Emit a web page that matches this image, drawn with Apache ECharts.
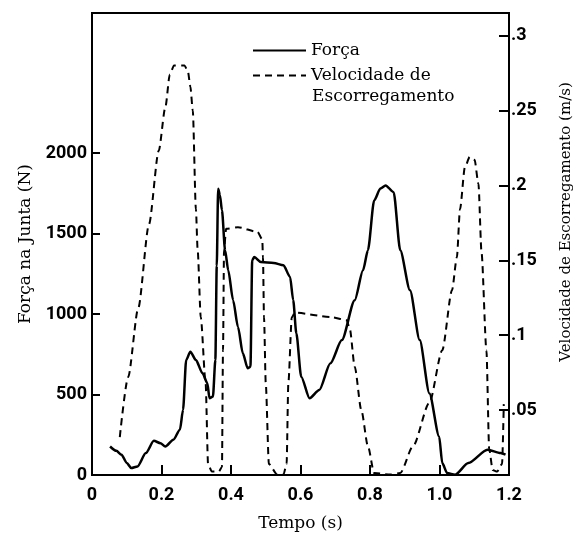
<!DOCTYPE html>
<html>
<head>
<meta charset="UTF-8">
<title>Força e velocidade</title>
<script type="text/javascript" src="https://cdn.jsdelivr.net/npm/echarts@6/dist/echarts.min.js"></script>
</head>
<body style="margin:0">
	<div id="div" style="width:582px;height:537px"></div>

	<script type="text/javascript">
		// Força na junta (N) - tempo (s)
		var forceT = [0.052, 0.07, 0.085, 0.10, 0.113, 0.131, 0.155, 0.178, 0.197, 0.211, 0.234, 0.253, 0.262,
			0.271, 0.283, 0.299, 0.318, 0.332, 0.338, 0.348, 0.355, 0.359, 0.363, 0.368, 0.374, 0.383, 0.392,
			0.406, 0.42, 0.434, 0.448, 0.456, 0.461, 0.467, 0.486, 0.523, 0.551, 0.570, 0.579, 0.588, 0.602,
			0.626, 0.654, 0.686, 0.719, 0.756, 0.780, 0.794, 0.812, 0.83, 0.845, 0.868, 0.887, 0.915, 0.943,
			0.971, 0.999, 1.008, 1.022, 1.045, 1.083, 1.138, 1.176, 1.19];
		var forceVal = [177, 150, 126, 75, 43, 53, 136, 212, 198, 177, 219, 281, 405,
			714, 766, 714, 632, 570, 477, 487, 714, 1300, 1778, 1740, 1644, 1396, 1272,
			1086, 921, 756, 663, 673, 1334, 1354, 1323, 1317, 1303, 1230, 1086, 880, 611,
			477, 528, 694, 838, 1086, 1272, 1396, 1706, 1780, 1799, 1757, 1396, 1148, 838,
			507, 239, 74, 12, 2, 74, 157, 136, 126];

		// Velocidade de escorregamento (m/s) - tempo (s)
		var velT = [0.080, 0.104, 0.133, 0.164, 0.192, 0.211, 0.224, 0.236, 0.266, 0.276, 0.283, 0.290,
			0.299, 0.304, 0.313, 0.327, 0.334, 0.345, 0.365, 0.374, 0.377, 0.380, 0.386, 0.42, 0.476,
			0.490, 0.492, 0.495, 0.500, 0.509, 0.533, 0.551, 0.560, 0.565, 0.575, 0.584, 0.69, 0.733,
			0.742, 0.756, 0.775, 0.794, 0.812, 0.859, 0.887, 0.924, 0.971, 1.008, 1.036, 1.050, 1.059,
			1.073, 1.087, 1.101, 1.112, 1.121, 1.135, 1.143, 1.153, 1.166, 1.180, 1.185];
		var velVal = [0.032, 0.072, 0.118, 0.174, 0.223, 0.252, 0.274, 0.280, 0.280, 0.276, 0.266, 0.250,
			0.184, 0.157, 0.112, 0.068, 0.014, 0.009, 0.009, 0.012, 0.090, 0.157, 0.171, 0.172, 0.169,
			0.164, 0.152, 0.112, 0.068, 0.014, 0.007, 0.007, 0.014, 0.068, 0.112, 0.115, 0.112, 0.110,
			0.104, 0.079, 0.050, 0.026, 0.008, 0.007, 0.008, 0.026, 0.055, 0.090, 0.130, 0.152, 0.184,
			0.212, 0.219, 0.217, 0.201, 0.155, 0.090, 0.024, 0.010, 0.009, 0.014, 0.054];

		var xTicks = [0, 0.2, 0.4, 0.6, 0.8, 1.0, 1.2];
		var xTickLabels = ['0', '0.2', '0.4', '0.6', '0.8', '1.0', '1.2'];
		var leftTicks = [0, 500, 1000, 1500, 2000];
		var leftTickLabels = ['0', '500', '1000', '1500', '2000'];
		var rightTicks = [0.05, 0.1, 0.15, 0.2, 0.25, 0.3];
		var rightTickLabels = ['.05', '.1', '.15', '.2', '.25', '.3'];

		function pairs(xs, ys) {
			var out = [];
			for (var i = 0; i < xs.length; i++) {
				out.push([xs[i], ys[i]]);
			}
			return out;
		}
		function labelOf(ticks, labels) {
			return function(v) {
				for (var i = 0; i < ticks.length; i++) {
					if (Math.abs(ticks[i] - v) < 1e-6) return labels[i];
				}
				return '';
			};
		}

		var serif = 'DejaVu Serif';
		var tickFont = {
			fontFamily : 'Roboto',
			fontWeight : 'bold',
			fontSize : 18,
			color : '#000'
		};

		var mychart = echarts.init(document.getElementById('div'));
		var option = {
			animation : false,
			backgroundColor : '#fff',
			grid : {
				left : 92,
				right : 62,
				top : 13,
				bottom : 62,
				show : true,
				borderColor : '#000',
				borderWidth : 2
			},
			legend : {
				orient : 'vertical',
				left : 247,
				top : 37,
				itemWidth : 53,
				itemHeight : 14,
				itemGap : 8,
				itemStyle : { opacity : 0 },
				data : [ 'Força', 'Velocidade' ],
				formatter : function(name) {
					return name == 'Força' ? 'Força' : 'Velocidade de';
				},
				textStyle : {
					fontFamily : serif,
					fontSize : 17,
					color : '#000'
				}
			},
			graphic : [ {
				type : 'text',
				left : 312,
				top : 88,
				style : {
					text : 'Escorregamento',
					font : '17px "DejaVu Serif"',
					fill : '#000'
				}
			} ],
			xAxis : {
				type : 'value',
				min : 0,
				max : 1.2,
				name : 'Tempo (s)',
				nameLocation : 'middle',
				nameGap : 40,
				nameTextStyle : {
					fontFamily : serif,
					fontSize : 17,
					color : '#000'
				},
				axisLine : { lineStyle : { color : '#000', width : 2 } },
				axisTick : { inside : true, length : 10, lineStyle : { color : '#000', width : 2 }, customValues : xTicks.slice(1, 6) },
				axisLabel : Object.assign({ margin : 11, customValues : xTicks, formatter : labelOf(xTicks, xTickLabels) }, tickFont),
				splitLine : { show : false }
			},
			yAxis : [ {
				type : 'value',
				min : 0,
				max : 2870,
				name : 'Força na Junta (N)',
				nameLocation : 'middle',
				nameGap : 58,
				nameTextStyle : {
					fontFamily : serif,
					fontSize : 17,
					color : '#000'
				},
				axisLine : { show : true, lineStyle : { color : '#000', width : 2 } },
				axisTick : { show : true, inside : true, length : 8, lineStyle : { color : '#000', width : 2 }, customValues : leftTicks },
				axisLabel : Object.assign({ margin : 5, customValues : leftTicks, formatter : labelOf(leftTicks, leftTickLabels) }, tickFont),
				splitLine : { show : false }
			}, {
				type : 'value',
				position : 'right',
				min : 0.0067,
				max : 0.315,
				name : 'Velocidade de Escorregamento (m/s)',
				nameLocation : 'middle',
				nameGap : 50,
				nameRotate : 90,
				nameTextStyle : {
					fontFamily : serif,
					fontSize : 15,
					color : '#000',
					padding : [ 0, 0, 0, 44 ]
				},
				axisLine : { show : true, lineStyle : { color : '#000', width : 2 } },
				axisTick : { show : true, inside : true, length : 10, lineStyle : { color : '#000', width : 2 }, customValues : rightTicks },
				axisLabel : Object.assign({ margin : 2, customValues : rightTicks, formatter : labelOf(rightTicks, rightTickLabels) }, tickFont),
				splitLine : { show : false }
			} ],
			series : [ {
				name : 'Força',
				type : 'line',
				yAxisIndex : 0,
				symbol : 'none',
				smooth : 0.25,
				smoothMonotone : 'x',
				lineStyle : { color : '#000', width : 2.5 },
				itemStyle : { color : '#000' },
				data : pairs(forceT, forceVal)
			}, {
				name : 'Velocidade',
				type : 'line',
				yAxisIndex : 1,
				symbol : 'none',
				smooth : 0.25,
				smoothMonotone : 'x',
				lineStyle : { color : '#000', width : 2, type : [ 7, 5 ] },
				itemStyle : { color : '#000' },
				data : pairs(velT, velVal)
			} ]
		};
		mychart.setOption(option);
	</script>
</body>
</html>
